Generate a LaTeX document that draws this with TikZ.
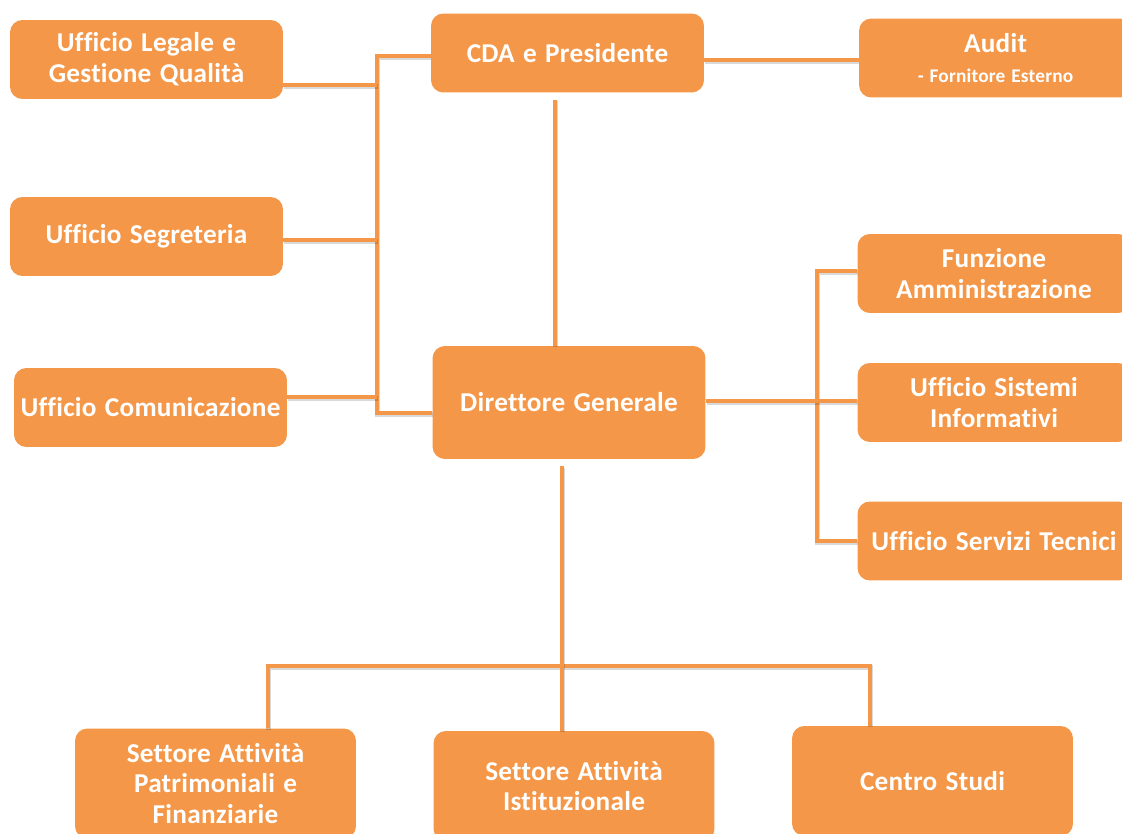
\documentclass[tikz,border=0pt]{standalone}
\usepackage{fontspec}
\setmainfont[Ligatures=NoCommon, LetterSpace=1, WordSpace=1.3]{Carlito}
\usetikzlibrary{calc,positioning}
\definecolor{orgfill}{RGB}{244,151,72}
\tikzset{
  obox/.style={rectangle, rounded corners=7pt, fill=orgfill, text=white, inner sep=0pt,
    align=center, minimum width=5.46cm, minimum height=1.58cm,
    font=\bfseries\fontsize{15.5}{17.6}\selectfont},
  lowbox/.style={minimum width=5.62cm, minimum height=2.2cm},
  olink/.style={draw=orgfill, line width=2.8pt,
    preaction={draw=black, draw opacity=0.15, line width=2.8pt,
      transform canvas={xshift=0.4pt, yshift=-0.9pt}}},
}
\begin{document}
\begin{tikzpicture}[x=0.02cm, y=-0.02cm]
  \useasboundingbox (0,0) rectangle (1122,834);
  \clip (0,0) rectangle (1122,834);
  % boxes
  \node[obox] (legal) at (146.5,59.5) {Ufficio Legale e\\Gestione Qualità};
  \node[obox] (cda) at (567.5,53) {CDA e Presidente};
  \node[obox] (audit) at (995.5,58) {Audit\\{\fontsize{11}{14}\selectfont - Fornitore Esterno}};
  \node[obox] (segr) at (146.5,236.5) {Ufficio Segreteria};
  \node[obox] (comun) at (150.5,407.5) {Ufficio Comunicazione};
  \node[obox, minimum height=2.26cm] (dg) at (569,402.5) {Direttore Generale};
  \node[obox] (funz) at (994,273.5) {Funzione\\Amministrazione};
  \node[obox] (sist) at (994,402.5) {Ufficio Sistemi\\Informativi};
  \node[obox] (tecn) at (994,541) {Ufficio Servizi Tecnici};
  \node[obox, lowbox] (patr) at (215.5,783.5) {Settore Attività\\Patrimoniali e\\Finanziarie};
  \node[obox, lowbox] (istit) at (574,786) {Settore Attività\\Istituzionale};
  \node[obox, lowbox] (centro) at (932.5,781) {Centro Studi};
  % left bus
  \coordinate (lt) at (377,56);
  \coordinate (lb) at (377,413);
  \draw[olink] (cda.west |- lt) -- (lt) -- (lb) -- (dg.west |- lb);
  \coordinate (tlegal) at ($(legal.east)+(0,25.5)$);
  \coordinate (tsegr) at ($(segr.east)+(0,3.5)$);
  \coordinate (tcomun) at ($(comun.east)+(0,-10.5)$);
  \draw[olink] (tlegal) -- (tlegal -| lt);
  \draw[olink] (tsegr) -- (tsegr -| lt);
  \draw[olink] (tcomun) -- (tcomun -| lt);
  % CDA
  \coordinate (ta) at (780,60);
  \draw[olink] (cda.east |- ta) -- (audit.west |- ta);
  \coordinate (cv) at (555,0);
  \draw[olink] ([yshift=-4pt]cv |- cda.south) -- (cv |- dg.north);
  % right bus
  \coordinate (rt) at (817,271);
  \coordinate (rm) at (817,401);
  \coordinate (rb) at (817,541);
  \draw[olink] (funz.west |- rt) -- (rt) -- (rb) -- (tecn.west |- rb);
  \draw[olink] (dg.east |- rm) -- (sist.west |- rm);
  % bottom bus
  \coordinate (bl) at (268,666);
  \coordinate (bm) at (562,666);
  \coordinate (br) at (870,666);
  \draw[olink] (bl |- patr.north) -- (bl) -- (br) -- (br |- centro.north);
  \draw[olink] ([yshift=-4pt]bm |- dg.south) -- (bm |- istit.north);
\end{tikzpicture}
\end{document}
